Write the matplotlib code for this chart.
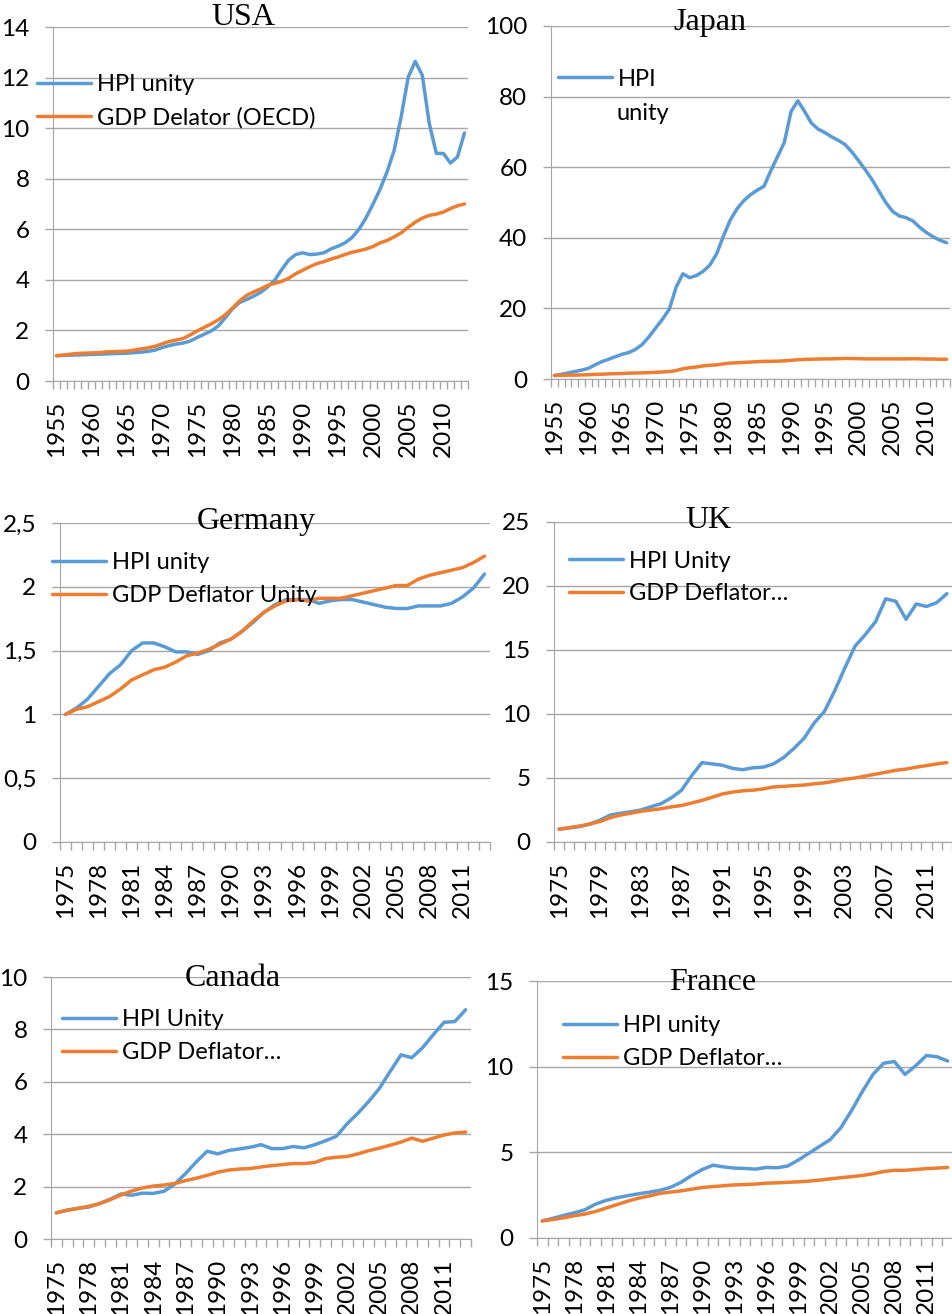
import numpy as np
import matplotlib
matplotlib.use('Agg')
import matplotlib.pyplot as plt

plt.rcParams['font.family'] = ['Lato', 'DejaVu Sans']

BLUE = '#5B9BD5'
ORANGE = '#ED7D31'
GREY = '#A6A6A6'
W, H = 953, 1314
TICK_FS = 17.5
LEG_FS = 17

# ---- data (index, first year = 1) ----
years_long = list(range(1955, 2014))
years_short = list(range(1975, 2014))

usa_hpi = [1.00, 1.01, 1.02, 1.03, 1.04, 1.05, 1.06, 1.07, 1.08, 1.09,
           1.10, 1.12, 1.14, 1.17, 1.22, 1.32, 1.40, 1.46, 1.50, 1.58,
           1.72, 1.85, 1.98, 2.18, 2.50, 2.85, 3.10, 3.22, 3.35, 3.50,
           3.72, 3.98, 4.40, 4.78, 5.00, 5.07, 5.00, 5.02, 5.07, 5.22,
           5.33, 5.46, 5.67, 6.00, 6.45, 7.00, 7.58, 8.28, 9.12, 10.45,
           12.02, 12.64, 12.09, 10.18, 9.00, 9.00, 8.62, 8.86, 9.81]
usa_gdp = [1.00, 1.03, 1.06, 1.09, 1.10, 1.11, 1.12, 1.15, 1.16, 1.17,
           1.18, 1.22, 1.27, 1.31, 1.37, 1.47, 1.56, 1.62, 1.68, 1.82,
           1.98, 2.12, 2.26, 2.42, 2.62, 2.88, 3.16, 3.38, 3.52, 3.64,
           3.78, 3.86, 3.94, 4.06, 4.24, 4.38, 4.52, 4.64, 4.72, 4.82,
           4.90, 5.00, 5.09, 5.15, 5.22, 5.32, 5.46, 5.56, 5.70, 5.86,
           6.08, 6.28, 6.44, 6.55, 6.60, 6.68, 6.82, 6.93, 7.00]

japan_hpi = [1.0, 1.3, 1.7, 2.1, 2.5, 3.0, 4.0, 4.9, 5.6, 6.3,
             7.0, 7.5, 8.4, 9.8, 12.0, 14.5, 17.0, 19.8, 26.0, 29.8,
             28.7, 29.3, 30.5, 32.3, 35.5, 40.5, 45.0, 48.2, 50.5, 52.2,
             53.5, 54.6, 59.0, 63.0, 67.0, 75.8, 78.8, 75.8, 72.5, 70.8,
             69.8, 68.6, 67.6, 66.4, 64.3, 61.8, 59.2, 56.4, 53.2, 50.0,
             47.5, 46.2, 45.7, 44.8, 43.0, 41.5, 40.3, 39.3, 38.6]
japan_gdp = [1.0, 1.05, 1.1, 1.1, 1.15, 1.2, 1.3, 1.35, 1.45, 1.5,
             1.55, 1.65, 1.7, 1.75, 1.8, 1.9, 2.0, 2.1, 2.4, 2.9,
             3.2, 3.4, 3.7, 3.9, 4.0, 4.3, 4.5, 4.6, 4.7, 4.8,
             4.9, 5.0, 5.0, 5.05, 5.15, 5.3, 5.45, 5.55, 5.6, 5.65,
             5.7, 5.7, 5.75, 5.85, 5.8, 5.75, 5.7, 5.7, 5.7, 5.7,
             5.7, 5.7, 5.7, 5.75, 5.7, 5.65, 5.65, 5.6, 5.6]

germany_hpi = [1.00, 1.05, 1.12, 1.22, 1.32, 1.39, 1.50, 1.56, 1.56, 1.53,
               1.49, 1.49, 1.47, 1.50, 1.56, 1.59, 1.65, 1.72, 1.80, 1.86,
               1.90, 1.90, 1.90, 1.87, 1.89, 1.90, 1.90, 1.88, 1.86, 1.84,
               1.83, 1.83, 1.85, 1.85, 1.85, 1.87, 1.92, 1.99, 2.10]
germany_gdp = [1.00, 1.04, 1.06, 1.10, 1.14, 1.20, 1.27, 1.31, 1.35, 1.37,
               1.41, 1.46, 1.48, 1.51, 1.55, 1.59, 1.65, 1.73, 1.80, 1.85,
               1.89, 1.90, 1.89, 1.91, 1.91, 1.91, 1.93, 1.95, 1.97, 1.99,
               2.01, 2.01, 2.06, 2.09, 2.11, 2.13, 2.15, 2.19, 2.24]

uk_hpi = [1.0, 1.1, 1.2, 1.4, 1.7, 2.1, 2.25, 2.35, 2.5, 2.75,
          3.0, 3.45, 4.05, 5.2, 6.2, 6.1, 6.0, 5.75, 5.65, 5.8,
          5.85, 6.1, 6.6, 7.3, 8.1, 9.3, 10.2, 11.8, 13.6, 15.3,
          16.2, 17.2, 19.0, 18.8, 17.4, 18.6, 18.4, 18.7, 19.4]
uk_gdp = [1.0, 1.12, 1.25, 1.4, 1.6, 1.9, 2.1, 2.25, 2.4, 2.5,
          2.6, 2.75, 2.85, 3.05, 3.25, 3.5, 3.75, 3.9, 4.0, 4.05,
          4.15, 4.3, 4.35, 4.4, 4.45, 4.55, 4.62, 4.75, 4.9, 5.0,
          5.15, 5.3, 5.45, 5.6, 5.7, 5.85, 5.97, 6.1, 6.2]

canada_hpi = [1.0, 1.1, 1.17, 1.22, 1.35, 1.52, 1.72, 1.67, 1.75, 1.74,
              1.82, 2.1, 2.5, 2.95, 3.35, 3.25, 3.38, 3.44, 3.50, 3.60,
              3.45, 3.45, 3.53, 3.48, 3.6, 3.75, 3.92, 4.4, 4.8, 5.25,
              5.75, 6.4, 7.03, 6.92, 7.3, 7.8, 8.27, 8.3, 8.75]
canada_gdp = [1.0, 1.1, 1.17, 1.25, 1.35, 1.5, 1.68, 1.83, 1.95, 2.02,
              2.06, 2.12, 2.23, 2.32, 2.43, 2.55, 2.63, 2.67, 2.69, 2.75,
              2.8, 2.84, 2.88, 2.88, 2.92, 3.07, 3.12, 3.15, 3.25, 3.37,
              3.47, 3.58, 3.7, 3.85, 3.73, 3.85, 3.97, 4.05, 4.08]

france_hpi = [1.0, 1.15, 1.32, 1.47, 1.65, 1.98, 2.2, 2.35, 2.47, 2.58,
              2.67, 2.78, 2.95, 3.25, 3.65, 4.0, 4.25, 4.15, 4.08, 4.06,
              4.02, 4.12, 4.1, 4.2, 4.55, 4.95, 5.35, 5.75, 6.45, 7.45,
              8.55, 9.55, 10.2, 10.3, 9.55, 10.05, 10.65, 10.58, 10.33]
france_gdp = [1.0, 1.08, 1.18, 1.3, 1.4, 1.55, 1.75, 1.95, 2.15, 2.32,
              2.45, 2.6, 2.68, 2.75, 2.85, 2.95, 3.0, 3.05, 3.1, 3.12,
              3.15, 3.2, 3.22, 3.25, 3.28, 3.32, 3.38, 3.45, 3.52, 3.58,
              3.65, 3.75, 3.88, 3.95, 3.95, 4.0, 4.05, 4.08, 4.12]


def fx(px):
    return px / W


def fy(py):
    return 1 - py / H


def panel(fig, box, years, hpi, gdp, ymax, ystep, every, ylabels=None):
    left, top, right, bottom = box
    ax = fig.add_axes([fx(left), fy(bottom), (right - left) / W, (bottom - top) / H])
    n = len(years)
    x = np.arange(n)
    l1, = ax.plot(x, hpi, color=BLUE, lw=2.5, solid_joinstyle='round', solid_capstyle='round')
    l2, = ax.plot(x, gdp, color=ORANGE, lw=2.5, solid_joinstyle='round', solid_capstyle='round')
    ax.set_xlim(-0.5, n - 0.5)
    ax.set_ylim(0, ymax)
    yt = np.arange(0, ymax + ystep / 2, ystep)
    ax.set_yticks(yt)
    ax.set_yticklabels(ylabels if ylabels else [f'{v:g}' for v in yt])
    ax.set_xticks(range(0, n, every))
    ax.set_xticklabels([str(years[i]) for i in range(0, n, every)], rotation=90)
    ax.set_xticks(np.arange(-0.5, n), minor=True)
    ax.tick_params(axis='x', which='major', length=0, pad=14, labelsize=TICK_FS)
    ax.tick_params(axis='x', which='minor', length=6, width=1, color=GREY)
    ax.tick_params(axis='y', length=6, width=1, color=GREY, pad=11, labelsize=TICK_FS)
    ax.grid(axis='y', color=GREY, lw=1)
    ax.set_axisbelow(True)
    for s in ['top', 'right']:
        ax.spines[s].set_visible(False)
    for s in ['left', 'bottom']:
        ax.spines[s].set_color(GREY)
    return ax, l1, l2


def legend(ax, fig, handles, labels, xpx, ypx):
    ax.legend(handles, labels, loc='center left', bbox_to_anchor=(fx(xpx), fy(ypx)),
              bbox_transform=fig.transFigure, frameon=False, borderpad=0,
              borderaxespad=0, handlelength=2.3, handletextpad=0.25,
              labelspacing=0.5, fontsize=LEG_FS)


def title(fig, text, xpx, ypx):
    fig.text(fx(xpx), fy(ypx), text, ha='center', va='baseline',
             family='Liberation Serif', fontsize=23)


fig = plt.figure(figsize=(9.53, 13.14), dpi=100)

ax, a, b = panel(fig, (53, 27, 468, 381), years_long, usa_hpi, usa_gdp, 14, 2, 5)
legend(ax, fig, [a, b], ['HPI unity', 'GDP Delator (OECD)'], 37, 101)
title(fig, 'USA', 243, 25)

ax, a, b = panel(fig, (551, 26, 950, 379), years_long, japan_hpi, japan_gdp, 100, 20, 5)
legend(ax, fig, [a], ['HPI'], 558, 79)
fig.text(fx(616), fy(113), 'unity', va='center', ha='left', fontsize=LEG_FS)
title(fig, 'Japan', 710, 30)

ax, a, b = panel(fig, (60, 523, 490, 842), years_short, germany_hpi, germany_gdp, 2.5, 0.5, 3,
                 ['0', '0,5', '1', '1,5', '2', '2,5'])
legend(ax, fig, [a, b], ['HPI unity', 'GDP Deflator Unity'], 52, 579)
title(fig, 'Germany', 256, 529)

ax, a, b = panel(fig, (554, 522, 952, 842), years_short, uk_hpi, uk_gdp, 25, 5, 4)
legend(ax, fig, [a, b], ['HPI Unity', 'GDP Deflator…'], 569, 577.5)
title(fig, 'UK', 708, 528)

ax, a, b = panel(fig, (51, 977, 471, 1239), years_short, canada_hpi, canada_gdp, 10, 2, 3)
legend(ax, fig, [a, b], ['HPI Unity', 'GDP Deflator…'], 62, 1036)
title(fig, 'Canada', 233, 986)

ax, a, b = panel(fig, (537, 981, 953, 1238), years_short, france_hpi, france_gdp, 15, 5, 3)
legend(ax, fig, [a, b], ['HPI unity', 'GDP Deflator…'], 563, 1042)
title(fig, 'France', 713, 990)

fig.savefig('out.png', dpi=100)
